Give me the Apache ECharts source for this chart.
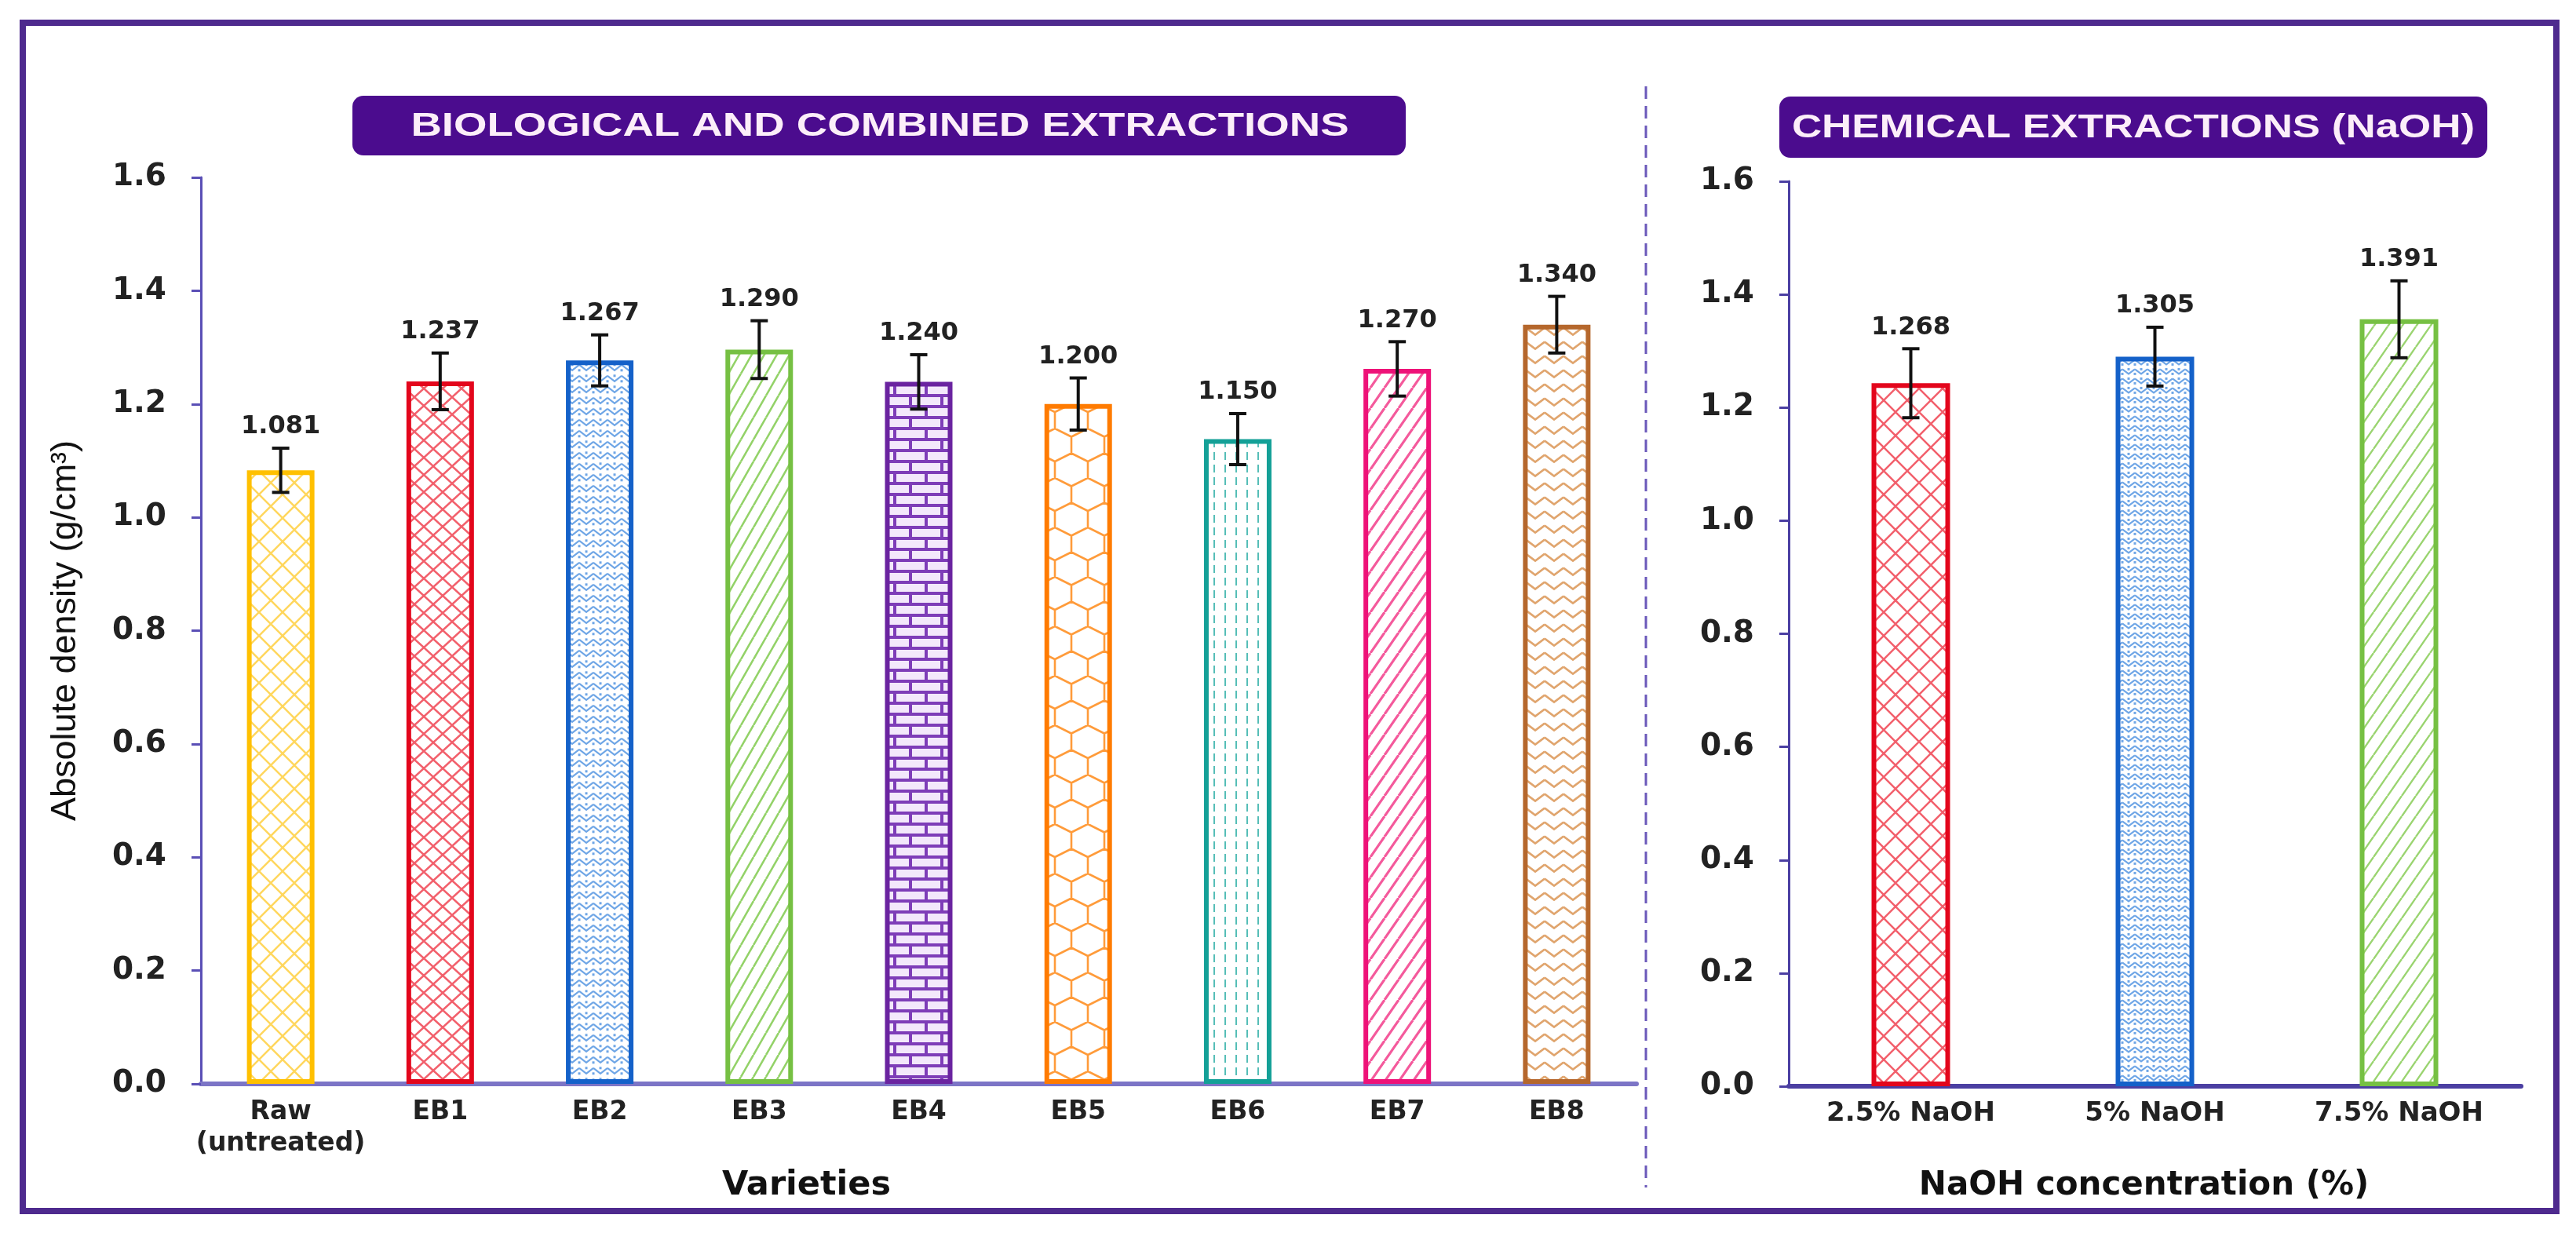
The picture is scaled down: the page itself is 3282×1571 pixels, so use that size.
<!DOCTYPE html>
<html>
<head>
<meta charset="utf-8">
<script src="https://cdn.jsdelivr.net/npm/echarts@6/dist/echarts.min.js"></script>
<style>
  html, body { margin: 0; padding: 0; background: #ffffff; }
  #chart { width: 3282px; height: 1571px; }
</style>
</head>
<body>
<div id="chart"></div>
<script>
// values
var categoriesBio = ['Raw\n(untreated)', 'EB1', 'EB2', 'EB3', 'EB4', 'EB5', 'EB6', 'EB7', 'EB8'];
var densityBio = [1.083, 1.240, 1.277, 1.296, 1.239, 1.200, 1.138, 1.262, 1.340];
var errorBio = [0.039, 0.050, 0.045, 0.051, 0.048, 0.046, 0.045, 0.048, 0.050];
var labelBio = ['1.081', '1.237', '1.267', '1.290', '1.240', '1.200', '1.150', '1.270', '1.340'];

var categoriesChem = ['2.5% NaOH', '5% NaOH', '7.5% NaOH'];
var densityChem = [1.243, 1.290, 1.356];
var errorChem = [0.061, 0.052, 0.068];
var labelChem = ['1.268', '1.305', '1.391'];

var yMin = 0, yMax = 1.6, yStep = 0.2;

var FONT = '"DejaVu Sans", "Liberation Sans", sans-serif';

// ---- hatch patterns, drawn into small tiles ----
function tile(w, h, draw) {
    var c = document.createElement('canvas');
    c.width = w; c.height = h;
    var ctx = c.getContext('2d');
    ctx.fillStyle = '#ffffff';
    ctx.fillRect(0, 0, w, h);
    draw(ctx, w, h);
    return { image: c, repeat: 'repeat' };
}
function crosshatch(color, w, h, lw) {
    return tile(w, h, function (ctx) {
        ctx.strokeStyle = color; ctx.lineWidth = lw;
        ctx.beginPath();
        [-w, 0, w].forEach(function (dx) {
            ctx.moveTo(dx, 0); ctx.lineTo(dx + w, h);
            ctx.moveTo(dx + w, 0); ctx.lineTo(dx, h);
        });
        ctx.stroke();
    });
}
function diagonal(color, w, h, lw) {
    return tile(w, h, function (ctx) {
        ctx.strokeStyle = color; ctx.lineWidth = lw;
        ctx.beginPath();
        [-w, 0, w].forEach(function (dx) {
            ctx.moveTo(dx, h); ctx.lineTo(dx + w, 0);
        });
        ctx.stroke();
    });
}
function zigzag(color, w, h, lw, dots) {
    return tile(w, h, function (ctx) {
        ctx.strokeStyle = color; ctx.lineWidth = lw;
        ctx.beginPath();
        ctx.moveTo(0, h * 0.2); ctx.lineTo(w / 2, h * 0.7); ctx.lineTo(w, h * 0.2);
        ctx.stroke();
        if (dots) {
            ctx.fillStyle = color;
            ctx.fillRect(w / 2 - 1.5, h * 0.2 - 1.5, 3, 3);
            ctx.fillRect(-1.5, h * 0.7 - 1.5, 3, 3);
            ctx.fillRect(w - 1.5, h * 0.7 - 1.5, 3, 3);
        }
    });
}
function bricks(color, w, h, lw) {
    return tile(w, h, function (ctx) {
        ctx.fillStyle = '#f3e8fb';
        ctx.fillRect(0, 0, w, h);
        ctx.strokeStyle = color; ctx.lineWidth = lw;
        ctx.beginPath();
        ctx.moveTo(0, 0); ctx.lineTo(w, 0);
        ctx.moveTo(0, h / 2); ctx.lineTo(w, h / 2);
        ctx.moveTo(0, h); ctx.lineTo(w, h);
        ctx.moveTo(0, 0); ctx.lineTo(0, h / 2);
        ctx.moveTo(w, 0); ctx.lineTo(w, h / 2);
        ctx.moveTo(w / 2, h / 2); ctx.lineTo(w / 2, h);
        ctx.stroke();
    });
}
function honeycomb(color, w, s, lw) {
    return tile(w, s * 3, function (ctx) {
        ctx.strokeStyle = color; ctx.lineWidth = lw;
        var a = w / 2;
        var centers = [[0, 0], [w, 0], [a, 1.5 * s], [0, 3 * s], [w, 3 * s], [a, -1.5 * s], [a, 4.5 * s]];
        ctx.beginPath();
        centers.forEach(function (p) {
            var cx = p[0], cy = p[1];
            ctx.moveTo(cx, cy - s);
            ctx.lineTo(cx + a, cy - s / 2);
            ctx.lineTo(cx + a, cy + s / 2);
            ctx.lineTo(cx, cy + s);
            ctx.lineTo(cx - a, cy + s / 2);
            ctx.lineTo(cx - a, cy - s / 2);
            ctx.closePath();
        });
        ctx.stroke();
    });
}
function dashes(color, w, h, lw) {
    return tile(w, h, function (ctx) {
        ctx.strokeStyle = color; ctx.lineWidth = lw;
        ctx.beginPath();
        ctx.moveTo(w / 2, 0); ctx.lineTo(w / 2, h * 0.62);
        ctx.stroke();
    });
}

var styleBio = [
    { border: '#FFC000', fill: crosshatch('#FFD75E', 30, 30, 2.5) },
    { border: '#E3061C', fill: crosshatch('#F2606C', 24, 22, 2.5) },
    { border: '#1461C9', fill: zigzag('#6FA6E6', 18, 14, 2.2, true) },
    { border: '#76C043', fill: diagonal('#93D268', 16, 28, 2.6) },
    { border: '#6A23A0', fill: bricks('#7E3DB8', 40, 28, 4) },
    { border: '#FF7B00', fill: honeycomb('#FF9B3A', 42, 21, 2.6) },
    { border: '#14A097', fill: dashes('#56BEB7', 14, 16, 2) },
    { border: '#EE1278', fill: diagonal('#F45A9C', 18, 26, 3.2) },
    { border: '#B5672C', fill: zigzag('#E0A56E', 24, 18, 2.6, false) }
];
var styleChem = [
    { border: '#E3061C', fill: crosshatch('#F2606C', 30, 30, 2.5) },
    { border: '#1461C9', fill: zigzag('#6FA6E6', 16, 12, 2.2, true) },
    { border: '#76C043', fill: diagonal('#9AD470', 18, 26, 2.4) }
];

function barData(values, styles) {
    return values.map(function (v, i) {
        return {
            value: v,
            itemStyle: { color: styles[i].fill, borderColor: styles[i].border, borderWidth: 6 }
        };
    });
}

function errorRender(labels) {
    return function (params, api) {
        var x = api.value(0), m = api.value(1), e = api.value(2);
        var top = api.coord([x, m + e]);
        var bot = api.coord([x, m - e]);
        var hw = 11;
        var line = { stroke: '#111111', lineWidth: 4 };
        return {
            type: 'group',
            children: [
                { type: 'line', shape: { x1: top[0], y1: top[1], x2: bot[0], y2: bot[1] }, style: line },
                { type: 'line', shape: { x1: top[0] - hw, y1: top[1], x2: top[0] + hw, y2: top[1] }, style: line },
                { type: 'line', shape: { x1: bot[0] - hw, y1: bot[1], x2: bot[0] + hw, y2: bot[1] }, style: line },
                {
                    type: 'text', x: top[0], y: top[1] - 11,
                    style: {
                        text: labels[params.dataIndex], align: 'center', verticalAlign: 'bottom',
                        fontFamily: FONT, fontWeight: 'bold', fontSize: 32, fill: '#222222'
                    }
                }
            ]
        };
    };
}

function errData(values, errs) {
    return values.map(function (v, i) { return [i, v, errs[i]]; });
}

function yAxisCfg(gridIndex, axisColor) {
    return {
        type: 'value', gridIndex: gridIndex, min: yMin, max: yMax, interval: yStep,
        splitLine: { show: false },
        axisLine: { show: true, lineStyle: { color: axisColor, width: 3 } },
        axisTick: { show: true, length: 12, lineStyle: { color: axisColor, width: 3 } },
        axisLabel: {
            margin: 44, fontFamily: FONT, fontWeight: 'bold', fontSize: 39, color: '#222222',
            formatter: function (v) { return v.toFixed(1); }
        }
    };
}

var dom = document.getElementById('chart');
var myChart = echarts.init(dom, null, { renderer: 'canvas' });

var option = {
    backgroundColor: '#ffffff',
    animation: false,
    grid: [
        { left: 256, top: 226, width: 1829, bottom: 190 },
        { left: 2279, top: 231, width: 933, bottom: 187 }
    ],
    xAxis: [
        {
            type: 'category', gridIndex: 0, data: categoriesBio,
            axisLine: { lineStyle: { color: '#7C75C6', width: 6 } },
            axisTick: { show: false },
            axisLabel: {
                interval: 0, margin: 16, fontFamily: FONT, fontWeight: 'bold', fontSize: 33,
                color: '#222222', lineHeight: 40
            },
            name: 'Varieties', nameLocation: 'middle', nameGap: 108,
            nameTextStyle: {
                fontFamily: FONT, fontWeight: 'bold', fontSize: 43, color: '#111111',
                padding: [0, 286, 0, 0]
            }
        },
        {
            type: 'category', gridIndex: 1, data: categoriesChem,
            axisLine: { lineStyle: { color: '#4B3FA2', width: 6 } },
            axisTick: { show: false },
            axisLabel: {
                interval: 0, margin: 18, fontFamily: FONT, fontWeight: 'bold', fontSize: 34, color: '#222222'
            },
            name: 'NaOH concentration (%)', nameLocation: 'middle', nameGap: 106,
            nameTextStyle: {
                fontFamily: FONT, fontWeight: 'bold', fontSize: 42, color: '#111111',
                padding: [0, 28, 0, 0]
            }
        }
    ],
    yAxis: [
        Object.assign(yAxisCfg(0, '#5A4FB6'), {
            name: 'Absolute density (g/cm³)', nameLocation: 'middle', nameGap: 150,
            nameTextStyle: { fontFamily: '"Liberation Sans", Arial, sans-serif', fontSize: 45, color: '#111111' }
        }),
        yAxisCfg(1, '#4B3FA2')
    ],
    series: [
        {
            type: 'bar', xAxisIndex: 0, yAxisIndex: 0, barWidth: 86,
            data: barData(densityBio, styleBio)
        },
        {
            type: 'bar', xAxisIndex: 1, yAxisIndex: 1, barWidth: 100,
            data: barData(densityChem, styleChem)
        },
        {
            type: 'custom', xAxisIndex: 0, yAxisIndex: 0, z: 5, clip: false,
            renderItem: errorRender(labelBio), data: errData(densityBio, errorBio)
        },
        {
            type: 'custom', xAxisIndex: 1, yAxisIndex: 1, z: 5, clip: false,
            renderItem: errorRender(labelChem), data: errData(densityChem, errorChem)
        }
    ],
    graphic: [
        {
            type: 'rect', z: 10, silent: true,
            shape: { x: 29, y: 29, width: 3228, height: 1514 },
            style: { fill: null, stroke: '#4E2A8E', lineWidth: 8 }
        },
        {
            type: 'line', z: 10, silent: true,
            shape: { x1: 2097, y1: 110, x2: 2097, y2: 1513 },
            style: { stroke: '#6A58BA', lineWidth: 3, lineDash: [16, 9] }
        },
        {
            type: 'rect', z: 10, silent: true,
            shape: { x: 449, y: 122, width: 1342, height: 76, r: 14 },
            style: { fill: '#4B0C8E' }
        },
        {
            type: 'text', z: 11, silent: true, x: 1121, y: 161, scaleX: 1.3,
            style: {
                text: 'BIOLOGICAL AND COMBINED EXTRACTIONS', align: 'center', verticalAlign: 'middle',
                fontFamily: '"Liberation Sans", Arial, sans-serif', fontWeight: 'bold', fontSize: 42, fill: '#FCEEF9'
            }
        },
        {
            type: 'rect', z: 10, silent: true,
            shape: { x: 2267, y: 123, width: 902, height: 78, r: 14 },
            style: { fill: '#4B0C8E' }
        },
        {
            type: 'text', z: 11, silent: true, x: 2718, y: 163, scaleX: 1.26,
            style: {
                text: 'CHEMICAL EXTRACTIONS (NaOH)', align: 'center', verticalAlign: 'middle',
                fontFamily: '"Liberation Sans", Arial, sans-serif', fontWeight: 'bold', fontSize: 42, fill: '#FCEEF9'
            }
        }
    ]
};

myChart.setOption(option);
</script>
</body>
</html>
